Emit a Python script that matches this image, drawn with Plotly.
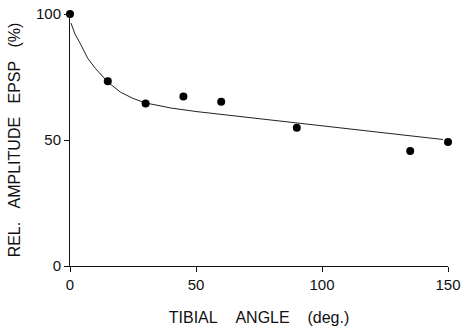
import plotly.graph_objects as go

# Measured points
angle = [0, 15, 30, 45, 60, 90, 135, 150]
amplitude = [100, 73.3, 64.5, 67.3, 65.2, 54.9, 45.6, 49.2]

# Fitted curve
curve_angle = [0.4, 2, 4, 7, 10, 15, 20, 25, 30, 40, 50, 60, 75, 90, 105, 120, 135, 148]
curve_amp = [96.4, 92, 88.4, 82.5, 78.5, 73, 69, 66.5, 64.7, 62.7, 61.3, 60.2, 58.5, 56.8, 55, 53.3, 51.8, 50.2]

x_ticks = [0, 50, 100, 150]
y_ticks = [0, 50, 100]

NB = "\u00a0"
font = "Liberation Sans"

fig = go.Figure()
fig.add_trace(go.Scatter(x=curve_angle, y=curve_amp, mode="lines",
                         line=dict(color="#222", width=1), cliponaxis=False,
                         showlegend=False, hoverinfo="skip"))
fig.add_trace(go.Scatter(x=angle, y=amplitude, mode="markers",
                         marker=dict(color="black", size=8), cliponaxis=False,
                         showlegend=False))

fig.update_layout(
    width=464, height=332,
    margin=dict(l=70, r=16, t=14, b=66),
    paper_bgcolor="white", plot_bgcolor="white",
    font=dict(family=font, size=15, color="#111"),
    xaxis=dict(range=[0, 150], tickvals=x_ticks, ticks="outside", ticklen=5,
               tickcolor="#111", showline=True, linecolor="#111", linewidth=1,
               showgrid=False, zeroline=False, automargin=False,
               title=dict(text="TIBIAL" + NB*4 + "ANGLE" + NB*4 + "(deg.)",
                          font=dict(size=16), standoff=19)),
    yaxis=dict(range=[0, 100], tickvals=y_ticks, ticks="outside", ticklen=5,
               tickcolor="#111", showline=True, linecolor="#111", linewidth=1,
               showgrid=False, zeroline=False, automargin=False,
               title=dict(text="REL." + NB*3 + "AMPLITUDE" + NB*3 + "EPSP" + NB*3 + "(%)",
                          font=dict(size=16), standoff=11)),
)

fig.write_html("out.html")
